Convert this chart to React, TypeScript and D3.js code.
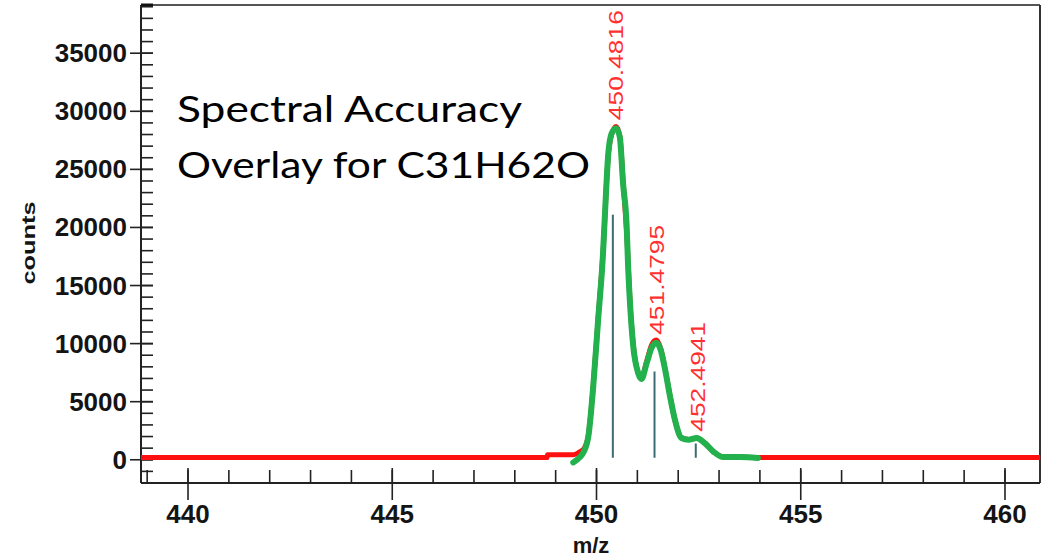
import React from "react";
import * as d3 from "d3";

const W = 1056;
const H = 557;

// measured profile (red): m/z and counts
const measuredMz = [
  438.85, 448.79, 448.8, 449.42, 449.5, 449.6, 449.7, 449.8, 449.92, 450.04, 450.16, 450.29,
  450.37, 450.48, 450.57, 450.65, 450.75, 450.82, 450.9, 451.02, 451.1, 451.23, 451.35,
  451.46, 451.57, 451.68, 451.8, 451.92, 452.08, 452.25, 452.45, 452.65, 452.86, 453.1,
  453.51, 453.85, 460.86,
];
const measuredCounts = [
  190, 190, 430, 430, 500, 700, 1000, 2100, 6400, 12200, 17900, 26300,
  28000, 28700, 27900, 24000, 18800, 13600, 9900, 7500, 7100, 8500, 9900,
  10300, 9600, 7800, 5500, 3400, 1900, 1750, 1850, 1450, 700, 250,
  250, 190, 190,
];

// theoretical overlay (green)
const overlayMz = [
  449.43, 449.6, 449.67, 449.8, 449.92, 450.04, 450.16, 450.2, 450.29, 450.37, 450.48,
  450.57, 450.65, 450.74, 450.77, 450.82, 450.9, 451.02, 451.1, 451.23, 451.35, 451.46,
  451.57, 451.68, 451.8, 451.92, 452.08, 452.25, 452.45, 452.65, 452.86, 453.1, 453.51, 453.95,
];
const overlayCounts = [
  -230, 250, 575, 2000, 6300, 12050, 17800, 20650, 26400, 28100, 28550,
  27800, 23800, 20000, 17000, 13500, 9750, 7470, 6960, 8340, 9640, 10070,
  9470, 7750, 5450, 3440, 1870, 1720, 1870, 1430, 710, 230, 230, 150,
];

// isotope sticks
const stickMz = [450.4, 451.42, 452.43];
const stickCounts = [21100, 7600, 1400];

// labelled peaks
const peakMz = [450.4816, 451.4795, 452.4941];
const peakCounts = [28550, 10070, 1720];

const xTickLabels = ["440", "445", "450", "455", "460"];
const yTickLabels = ["0", "5000", "10000", "15000", "20000", "25000", "30000", "35000"];

const labelFont = "'Liberation Sans', Arial, sans-serif";

export default function App() {
  const x = d3.scaleLinear().domain([438.849, 460.857]).range([141, 1040]);
  const y = d3.scaleLinear().domain([-2000, 39150]).range([483, 5]);

  // both profiles go through the same line generator
  const profile = d3
    .line<[number, number]>()
    .x((d) => x(d[0]))
    .y((d) => y(d[1]))
    .curve(d3.curveMonotoneX);

  const measuredPath = profile(measuredMz.map((m, i) => [m, measuredCounts[i]]));
  const overlayPath = profile(overlayMz.map((m, i) => [m, overlayCounts[i]]));

  const xMinor = d3.range(439, 461, 1);
  const yMinor = d3.range(-1000, 39001, 1000);

  return (
    <svg
      width={W}
      height={H}
      style={{ position: "absolute", left: 0, top: 0, background: "#fff" }}
    >
      {/* frame */}
      <line x1={141} x2={1040} y1={5} y2={5} stroke="#555" strokeWidth={2} />
      <line x1={1040} x2={1040} y1={5} y2={483} stroke="#333" strokeWidth={2} />
      <line x1={141} x2={141} y1={5} y2={483} stroke="#222" strokeWidth={2} />
      <line x1={141} x2={1040} y1={483} y2={483} stroke="#222" strokeWidth={2} />
      <line x1={141} x2={153} y1={5} y2={5} stroke="#111" strokeWidth={3} />

      {/* y ticks */}
      {yMinor.map((v) => (
        <line key={"ym" + v} x1={141} x2={153} y1={y(v)} y2={y(v)} stroke="#222" strokeWidth={1.6} />
      ))}
      {yTickLabels.map((t) => (
        <g key={"y" + t}>
          <line x1={130} x2={153} y1={y(+t)} y2={y(+t)} stroke="#222" strokeWidth={1.6} />
          <text
            x={127}
            y={y(+t) + 9}
            textAnchor="end"
            fontFamily={labelFont}
            fontWeight="bold"
            fontSize={26}
            fill="#141414"
          >
            {t}
          </text>
        </g>
      ))}

      {/* x ticks */}
      {xMinor.map((v) => (
        <line key={"xm" + v} x1={x(v)} x2={x(v)} y1={470} y2={483} stroke="#222" strokeWidth={1.6} />
      ))}
      {xTickLabels.map((t) => (
        <g key={"x" + t}>
          <line x1={x(+t)} x2={x(+t)} y1={468} y2={500} stroke="#222" strokeWidth={1.6} />
          <text
            x={x(+t)}
            y={523}
            textAnchor="middle"
            fontFamily={labelFont}
            fontWeight="bold"
            fontSize={26}
            fill="#141414"
          >
            {t}
          </text>
        </g>
      ))}

      {/* axis titles */}
      <text
        transform="translate(35,243) rotate(-90)"
        textAnchor="middle"
        fontFamily={labelFont}
        fontWeight="bold"
        fontSize={18}
        textLength={83}
        lengthAdjust="spacingAndGlyphs"
        fill="#141414"
      >
        counts
      </text>
      <text
        x={591}
        y={553}
        textAnchor="middle"
        fontFamily={labelFont}
        fontWeight="bold"
        fontSize={22}
        fill="#141414"
      >
        m/z
      </text>

      {/* sticks */}
      {stickMz.map((m, i) => (
        <line
          key={"s" + i}
          x1={x(m)}
          x2={x(m)}
          y1={y(0) - 2}
          y2={y(stickCounts[i])}
          stroke="#3d6b73"
          strokeWidth={2}
        />
      ))}

      {/* profiles */}
      <path d={measuredPath || ""} fill="none" stroke="#ff1010" strokeWidth={5} strokeLinejoin="round" />
      <path d={overlayPath || ""} fill="none" stroke="#22b14c" strokeWidth={6} strokeLinejoin="round" strokeLinecap="round" />

      {/* peak labels */}
      {peakMz.map((m, i) => (
        <text
          key={"p" + i}
          transform={`translate(${x(m) + 7},${y(peakCounts[i]) - 8}) rotate(-90)`}
          fontFamily={labelFont}
          fontSize={20}
          textLength={110}
          lengthAdjust="spacingAndGlyphs"
          fill="#ff3030"
        >
          {m.toFixed(4)}
        </text>
      ))}

      {/* annotation */}
      <text x={177} y={122} fontFamily="Lato, 'Open Sans', sans-serif" fontSize={37} textLength={345} lengthAdjust="spacingAndGlyphs" fill="#000">
        Spectral Accuracy
      </text>
      <text x={177} y={178} fontFamily="Lato, 'Open Sans', sans-serif" fontSize={37} textLength={413} lengthAdjust="spacingAndGlyphs" fill="#000">
        Overlay for C31H62O
      </text>
    </svg>
  );
}
